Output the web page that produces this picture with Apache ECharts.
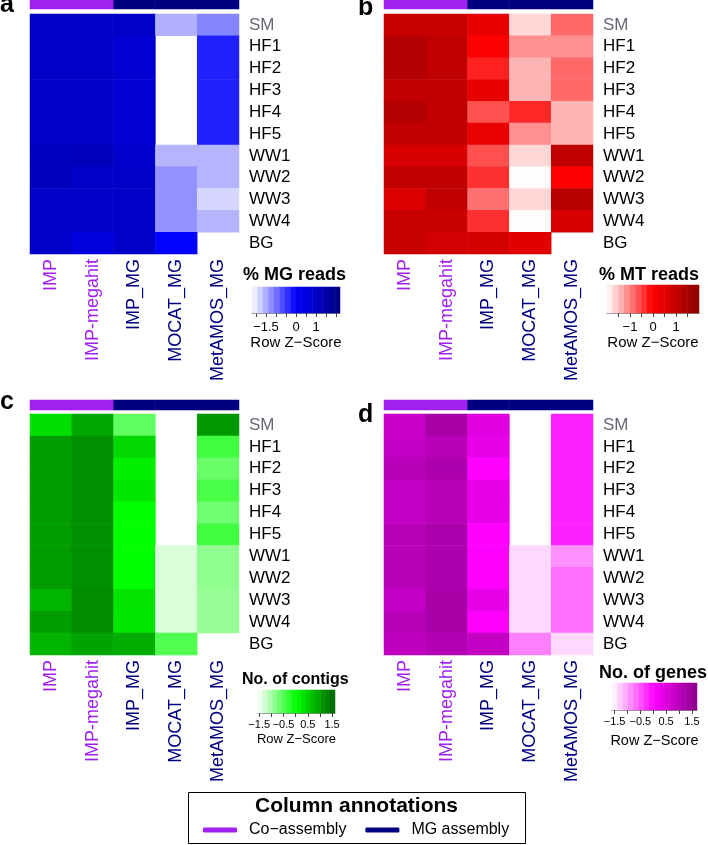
<!DOCTYPE html>
<html><head><meta charset="utf-8">
<script src="https://cdn.jsdelivr.net/npm/echarts@6/dist/echarts.min.js"></script>
<style>html,body{margin:0;padding:0;background:#fff}#c{width:708px;height:845px}</style>
</head><body><div id="c"></div><script>
// ---------- data ----------
const rows = ['SM','HF1','HF2','HF3','HF4','HF5','WW1','WW2','WW3','WW4','BG'];
const cols = ['IMP','IMP-megahit','IMP_MG','MOCAT_MG','MetAMOS_MG'];
const colGroups = ['Co\u2212assembly','Co\u2212assembly','MG assembly','MG assembly','MG assembly'];
const groupNames = ['Co\u2212assembly','MG assembly'];

// Row Z-scores, rows x columns (null = no value)
const mgReadsZ = [
  [0.95, 0.95, 0.95, -1.52, -1.15],
  [0.95, 0.95, 0.75, null, -0.28],
  [0.95, 0.95, 0.75, null, -0.28],
  [0.95, 0.95, 0.75, null, -0.28],
  [0.95, 0.95, 0.75, null, -0.28],
  [0.95, 0.95, 0.75, null, -0.28],
  [1.10, 1.15, 0.85, -1.55, -1.55],
  [1.15, 0.95, 0.95, -1.25, -1.55],
  [0.95, 0.95, 0.95, -1.25, -1.85],
  [0.95, 0.95, 0.95, -1.25, -1.55],
  [0.90, 0.55, 0.90, -0.02, null]
];
const mtReadsZ = [
  [0.95, 0.95, 0.40, -1.69, -0.82],
  [1.29, 1.09, 0.02, -1.13, -1.13],
  [1.29, 1.09, -0.25, -1.41, -0.82],
  [1.09, 1.09, 0.40, -1.41, -0.82],
  [1.29, 1.09, -0.63, -0.31, -1.41],
  [1.09, 1.09, 0.38, -1.13, -1.41],
  [0.67, 0.67, -0.63, -1.69, 1.09],
  [1.09, 1.09, -0.38, -1.98, 0.02],
  [0.60, 1.09, -0.88, -1.69, 1.22],
  [0.95, 0.95, -0.38, -1.98, 0.67],
  [0.95, 0.78, 0.74, 0.53, null]
];
const contigsZ = [
  [0.35, 0.93, -0.56, null, 1.09],
  [1.05, 1.17, 0.43, null, -0.36],
  [1.05, 1.17, 0.19, null, -0.61],
  [1.05, 1.17, 0.27, null, -0.41],
  [1.05, 1.17, 0.04, null, -0.66],
  [1.05, 1.17, 0.04, null, -0.36],
  [1.05, 1.17, 0.04, -1.31, -0.86],
  [1.05, 1.17, 0.04, -1.31, -0.86],
  [0.80, 1.21, 0.31, -1.31, -0.91],
  [1.05, 1.21, 0.27, -1.31, -0.91],
  [0.80, 0.97, 0.88, -0.46, null]
];
const genesZ = [
  [0.83, 1.29, 0.49, null, -0.16],
  [0.89, 1.06, 0.38, null, -0.16],
  [1.06, 1.23, 0.05, null, -0.16],
  [0.89, 1.06, 0.38, null, -0.16],
  [0.89, 1.06, 0.38, null, -0.16],
  [1.06, 1.23, 0.05, null, -0.16],
  [1.06, 1.23, 0.05, -1.35, -0.88],
  [1.06, 1.23, 0.05, -1.35, -0.67],
  [0.89, 1.29, 0.38, -1.35, -0.67],
  [1.06, 1.29, 0.05, -1.35, -0.67],
  [0.95, 1.12, 0.89, -0.78, -1.35]
];

// colour-key ranges, ticks and tick labels
const mgKeyRange = [-2.2, 2.2];
const mtKeyRange = [-2.0, 2.0];
const contigKeyRange = [-1.55, 1.62];
const geneKeyRange = [-1.6, 1.7];
const mgKeyTicks = [-2, -1.5, -1, -0.5, 0, 0.5, 1, 1.5, 2];
const mtKeyTicks = [-1.5, -1, -0.5, 0, 0.5, 1, 1.5];
const contigKeyTicks = [-1.5, -1, -0.5, 0, 0.5, 1, 1.5];
const geneKeyTicks = [-1.5, -1, -0.5, 0, 0.5, 1, 1.5];
const mgKeyLabels = [-1.5, 0, 1];
const mtKeyLabels = [-1, 0, 1];
const contigKeyLabels = [-1.5, -0.5, 0.5, 1.5];
const geneKeyLabels = [-1.5, -0.5, 0.5, 1.5];

// ---------- layout / style ----------
const FONT = '"Liberation Sans", Arial, Helvetica, sans-serif';
const groupColors = {'Co\u2212assembly':'#A020F0','MG assembly':'#000080'};
const panels = [
  {letter:'a', lx:0, ly:18, values:mgReadsZ, x:30, annTop:0, annH:9, top:14, h:240,
   colors:['#ffffff','#0000ff','#000080'], range:mgKeyRange, ticks:mgKeyTicks, labels:mgKeyLabels,
   key:{l:252,t:287,w:88,h:26}, title:'% MG reads', tx:243, ty:275, tsize:18, lsize:13, nsize:15, ngap:21, lmargin:8},
  {letter:'b', lx:358, ly:21, values:mtReadsZ, x:384, annTop:0, annH:9, top:14, h:240,
   colors:['#ffffff','#ff0000','#8b0000'], range:mtKeyRange, ticks:mtKeyTicks, labels:mtKeyLabels,
   key:{l:607,t:285,w:92,h:28}, title:'% MT reads', tx:599, ty:275, tsize:18, lsize:13, nsize:15, ngap:21, lmargin:8},
  {letter:'c', lx:0, ly:415, values:contigsZ, x:30, annTop:400, annH:10, top:414, h:241,
   colors:['#ffffff','#00ff00','#006400'], range:contigKeyRange, ticks:contigKeyTicks, labels:contigKeyLabels,
   key:{l:258,t:690,w:77,h:23}, title:'No. of contigs', tx:242, ty:680, tsize:16, lsize:11, nsize:13, ngap:20, lmargin:6},
  {letter:'d', lx:358, ly:428, values:genesZ, x:384, annTop:400, annH:10, top:414, h:241,
   colors:['#ffffff','#ff00ff','#8b008b'], range:geneKeyRange, ticks:geneKeyTicks, labels:geneKeyLabels,
   key:{l:612,t:683,w:85,h:27}, title:'No. of genes', tx:599, ty:673, tsize:18, lsize:11, nsize:14.5, ngap:23, lmargin:6}
];
const N_BINS = 16;
const fmt = v => (v < 0 ? '\u2212' : '') + Math.abs(v);

const grid = [], xAxis = [], yAxis = [], series = [], visualMap = [], graphic = [];

panels.forEach(p => {
  // annotation bar
  const gA = grid.length;
  grid.push({left:p.x, top:p.annTop, width:209, height:p.annH});
  const xA = xAxis.length; xAxis.push({type:'category', gridIndex:gA, data:cols, show:false});
  const yA = yAxis.length; yAxis.push({type:'category', gridIndex:gA, data:['ann'], show:false});
  groupNames.forEach(g => {
    const d = [];
    cols.forEach((c, ci) => { if (colGroups[ci] === g) d.push([ci, 0, 1]); });
    series.push({type:'heatmap', name:g, xAxisIndex:xA, yAxisIndex:yA, data:d,
      color:groupColors[g], itemStyle:{color:groupColors[g]}, emphasis:{disabled:true}, silent:true});
  });

  // main heatmap
  const gH = grid.length;
  grid.push({left:p.x, top:p.top, width:209, height:p.h});
  const xH = xAxis.length;
  xAxis.push({type:'category', gridIndex:gH, data:cols, position:'bottom',
    axisLine:{show:false}, axisTick:{show:false}, splitLine:{show:false},
    axisLabel:{rotate:90, fontSize:18, fontFamily:FONT, margin:5, interval:0,
      color:(v, i) => groupColors[colGroups[i]]}});
  const yH = yAxis.length;
  yAxis.push({type:'category', gridIndex:gH, data:rows, inverse:true, position:'right',
    axisLine:{show:false}, axisTick:{show:false}, splitLine:{show:false},
    axisLabel:{fontSize:17, fontFamily:FONT, margin:10, interval:0,
      color:(v) => v === 'SM' ? '#666677' : '#000000'}});
  const cells = [];
  p.values.forEach((r, ri) => r.forEach((v, ci) => { if (v !== null) cells.push([ci, ri, v]); }));
  const sHeat = series.length;
  series.push({type:'heatmap', xAxisIndex:xH, yAxisIndex:yH, data:cells, emphasis:{disabled:true}, silent:true});

  // colour key
  const gK = grid.length;
  grid.push({left:p.key.l, top:p.key.t, width:p.key.w, height:p.key.h});
  const bins = [], binData = [];
  const step = (p.range[1] - p.range[0]) / N_BINS;
  for (let i = 0; i < N_BINS; i++) { bins.push(String(i)); binData.push([i, 0, p.range[0] + (i + 0.5) * step]); }
  const xKc = xAxis.length; xAxis.push({type:'category', gridIndex:gK, data:bins, show:false});
  const xKv = xAxis.length;
  xAxis.push({type:'value', gridIndex:gK, min:p.range[0], max:p.range[1], position:'bottom',
    axisLine:{show:true, lineStyle:{color:'#888', width:1}},
    axisTick:{show:true, length:4, customValues:p.ticks, lineStyle:{color:'#444'}},
    axisLabel:{customValues:p.labels, fontSize:p.lsize, fontFamily:FONT, color:'#000', margin:p.lmargin, formatter:fmt, showMinLabel:true, showMaxLabel:true},
    splitLine:{show:false},
    name:'Row Z\u2212Score', nameLocation:'middle', nameGap:p.ngap,
    nameTextStyle:{fontSize:p.nsize, fontFamily:FONT, color:'#000'}});
  const yK = yAxis.length; yAxis.push({type:'category', gridIndex:gK, data:['k'], show:false});
  const sKey = series.length;
  series.push({type:'heatmap', xAxisIndex:xKc, yAxisIndex:yK, data:binData, emphasis:{disabled:true}, silent:true});

  visualMap.push({type:'continuous', show:false, min:p.range[0], max:p.range[1], dimension:2,
    seriesIndex:[sHeat, sKey], inRange:{color:p.colors}});

  graphic.push({type:'text', x:p.tx, y:p.ty, silent:true,
    style:{text:p.title, font:'bold ' + p.tsize + 'px ' + FONT, fill:'#000',
      textAlign:'left', textVerticalAlign:'middle', align:'left', verticalAlign:'middle'}});
  graphic.push({type:'text', x:p.lx, y:p.ly, silent:true,
    style:{text:p.letter, font:'bold 25px ' + FONT, fill:'#000',
      textAlign:'left', textVerticalAlign:'bottom', align:'left', verticalAlign:'bottom'}});
});

// bottom legend box
graphic.push({type:'rect', silent:true, shape:{x:188.5, y:792.5, width:337, height:51},
  style:{fill:'none', stroke:'#000', lineWidth:1}});
graphic.push({type:'text', x:356.5, y:806, silent:true,
  style:{text:'Column annotations', font:'bold 21px ' + FONT, fill:'#000',
    textAlign:'center', textVerticalAlign:'middle', align:'center', verticalAlign:'middle'}});

const option = {
  animation:false,
  backgroundColor:'#ffffff',
  textStyle:{fontFamily:FONT},
  grid, xAxis, yAxis, series, visualMap, graphic,
  legend:{data:groupNames, left:203, top:822, icon:'roundRect', itemWidth:34, itemHeight:5,
    itemGap:19, selectedMode:false, padding:0,
    textStyle:{fontSize:16, fontFamily:FONT, color:'#000', padding:[0,0,0,7]}}
};
const chart = echarts.init(document.getElementById('c'));
chart.setOption(option);
</script></body></html>
